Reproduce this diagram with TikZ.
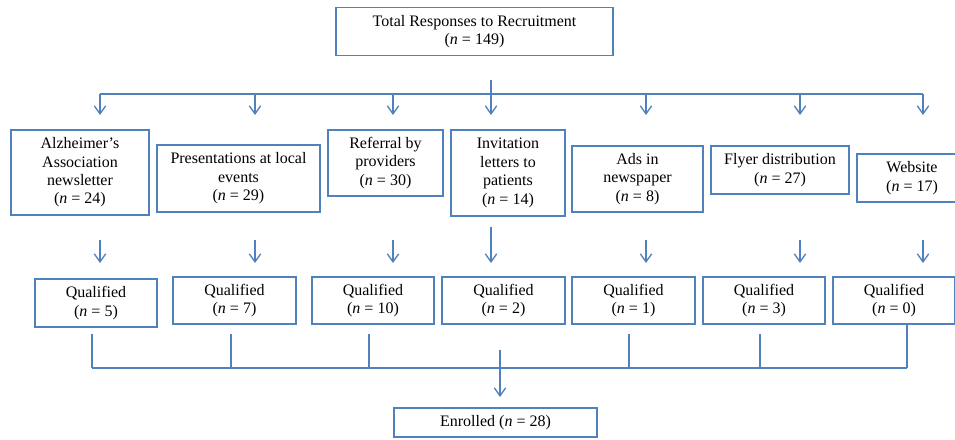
\documentclass[tikz,border=0pt]{standalone}
\usepackage{fontspec}
\setmainfont{Liberation Serif}
\usetikzlibrary{arrows.meta}

\definecolor{flowblue}{RGB}{79,129,189}

\tikzset{every picture/.style={line width=1pt}}
\tikzset{
  box/.style={draw=flowblue, line width=1pt, align=center, inner sep=1pt,
    font=\fontsize{12}{13.8}\selectfont},
  link/.style={draw=flowblue, line width=1pt},
  arr/.style={link, -{Straight Barb[length=6pt, width=8.5pt, line width=1pt]}}
}

\begin{document}
\begin{tikzpicture}[x=0.75pt,y=0.75pt,yscale=-1,xscale=1]
%set diagram left start at 0, and has height of 439
\useasboundingbox (0,0) rectangle (955,439);

%Shape: Rectangle [total]
\draw (474.5,31.5) node [box][minimum width=207.75pt, minimum height=36pt] (total) {Total Responses to Recruitment\\(\textit{n} = 149)};

%Shape: Rectangle [sources]
\draw (80,172.5) node [box][minimum width=103.5pt, minimum height=63.75pt] (alz) {Alzheimer's\\Association\\newsletter\\(\textit{n} = 24)};
\draw (238.5,178.5) node [box][minimum width=122.25pt, minimum height=50.25pt] (pres) {Presentations at local\\events\\(\textit{n} = 29)};
\draw (385.5,163) node [box][minimum width=86.25pt, minimum height=49.5pt] (refer) {Referral by\\providers\\(\textit{n} = 30)};
\draw (508,173) node [box][minimum width=85.5pt, minimum height=64.5pt] (invite) {Invitation\\letters to\\patients\\(\textit{n} = 14)};
\draw (637.5,179) node [box][minimum width=98.25pt, minimum height=49.5pt] (ads) {Ads in\\newspaper\\(\textit{n} = 8)};
\draw (780,170) node [box][minimum width=103.5pt, minimum height=36pt] (flyer) {Flyer distribution\\(\textit{n} = 27)};
\draw (912,178) node [box][minimum width=82.5pt, minimum height=36pt] (web) {Website\\(\textit{n} = 17)};

%Shape: Rectangle [qualified]
\draw (96,303) node [box][minimum width=91.5pt, minimum height=36pt] (q1) {Qualified\\(\textit{n} = 5)};
\draw (234.5,300.5) node [box][minimum width=92.25pt, minimum height=35.25pt] (q2) {Qualified\\(\textit{n} = 7)};
\draw (373,300.5) node [box][minimum width=91.5pt, minimum height=35.25pt] (q3) {Qualified\\(\textit{n} = 10)};
\draw (503.5,300.5) node [box][minimum width=92.25pt, minimum height=35.25pt] (q4) {Qualified\\(\textit{n} = 2)};
\draw (633.5,300.5) node [box][minimum width=92.25pt, minimum height=35.25pt] (q5) {Qualified\\(\textit{n} = 1)};
\draw (764,300.5) node [box][minimum width=91.5pt, minimum height=35.25pt] (q6) {Qualified\\(\textit{n} = 3)};
\draw (894,300.5) node [box][minimum width=91.5pt, minimum height=35.25pt] (q7) {Qualified\\(\textit{n} = 0)};

%Shape: Rectangle [enrolled]
\draw (495.5,422.5) node [box][minimum width=152.25pt, minimum height=21.75pt] (enrol) {Enrolled (\textit{n} = 28)};

%Straight Lines [top bus]
\coordinate (stem) at (491,80);
\coordinate (busL) at (100,94);
\coordinate (busR) at (923,94);
\draw [link] (busL) -- (busR);
\draw [link] (stem) -- (stem |- busL);

%Straight Lines [arrows to sources and to qualified]
\foreach \x/\i/\y in {100/1/240,255/2/240,393/3/240,491/4/227,646/5/240,800/6/240,923/7/240}{
  \coordinate (s\i) at (\x,94);
  \coordinate (t\i) at (\x,115);
  \draw [arr] (s\i) -- (t\i);
  \coordinate (u\i) at (\x,\y);
  \coordinate (v\i) at (\x,263);
  \draw [arr] (u\i) -- (v\i);
}

%Straight Lines [bottom bus]
\foreach \x/\i in {92/1,231/2,369/3,629/5,760/6}{
  \coordinate (d\i) at (\x,334);
  \coordinate (e\i) at (\x,368);
  \draw [link] (d\i) -- (e\i);
}
\coordinate (d7) at (907,368);
\draw [link] (q7.south -| d7) -- (d7);
\draw [link] (e1) -- (d7);

%Straight Lines [to enrolled]
\coordinate (f1) at (500,350);
\coordinate (f2) at (500,397);
\draw [arr] (f1) -- (f2);

\end{tikzpicture}
\end{document}
